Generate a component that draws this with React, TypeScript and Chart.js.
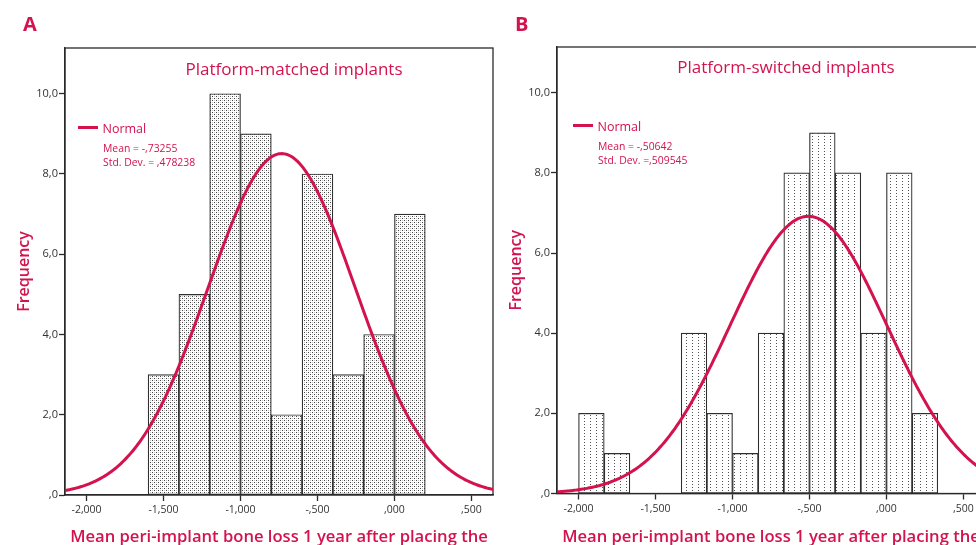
import React, { useEffect, useRef } from "react";
import { Chart, registerables } from "chart.js";

Chart.register(...registerables);

// ---------- data ----------
const X_TICKS = [-2, -1.5, -1, -0.5, 0, 0.5];
const Y_TICKS = [0, 2, 4, 6, 8, 10];
const X_MIN = -2.14;
const X_MAX = 0.64;
const Y_MAX = 11.14;

const X_TITLE = "Mean peri-implant bone loss 1 year after placing the";
const Y_TITLE = "Frequency";

// Panel A: platform-matched implants (bin edges and counts)
const EDGES_A = [-1.6, -1.4, -1.2, -1.0, -0.8, -0.6, -0.4, -0.2, 0.0, 0.2];
const COUNTS_A = [3, 5, 10, 9, 2, 8, 3, 4, 7];
const MEAN_A = -0.73255;
const SD_A = 0.478238;

// Panel B: platform-switched implants (bins of 1/6)
const EDGES_B = [-12, -11, -10, -9, -8, -7, -6, -5, -4, -3, -2, -1, 0, 1, 2].map((k) => k / 6);
const COUNTS_B = [2, 1, 0, 0, 4, 2, 1, 4, 8, 9, 8, 4, 8, 2];
const MEAN_B = -0.50642;
const SD_B = 0.509545;

// ---------- styles ----------
const RED = "#d3124e";
const AXIS = "#2a2a2a";
const FONT = '"Open Sans", sans-serif';
Chart.defaults.font.family = FONT;

function fmtY(v: number) {
  let s = Number(v).toFixed(1).replace(".", ",");
  if (s.startsWith("0,")) s = s.slice(1);
  return s;
}
function fmtX(v: number) {
  let s = Number(v).toFixed(3).replace(".", ",");
  s = s.replace(/^(-?)0,/, "$1,");
  return s;
}

function makePattern(ctx: CanvasRenderingContext2D, kind: string) {
  const c = document.createElement("canvas");
  const p = c.getContext("2d")!;
  if (kind === "dense") {
    c.width = 4;
    c.height = 4;
    p.fillStyle = "#ffffff";
    p.fillRect(0, 0, 4, 4);
    p.fillStyle = "#444444";
    p.fillRect(0, 0, 1, 1);
    p.fillRect(2, 2, 1, 1);
    p.fillStyle = "#c4c4c4";
    p.fillRect(2, 0, 1, 1);
    p.fillRect(0, 2, 1, 1);
  } else {
    c.width = 6;
    c.height = 3;
    p.fillStyle = "#ffffff";
    p.fillRect(0, 0, 6, 3);
    p.fillStyle = "#505050";
    p.fillRect(2, 1, 1, 1);
  }
  return ctx.createPattern(c, "repeat")!;
}

const framePlugin = {
  id: "frame",
  beforeDatasetsDraw(chart: any) {
    const { ctx, chartArea } = chart;
    const { left, top, right, bottom } = chartArea;
    ctx.save();
    ctx.strokeStyle = AXIS;
    ctx.lineWidth = 1.3;
    ctx.strokeRect(left, top, right - left, bottom - top);
    ctx.restore();
  },
};

const textPlugin = {
  id: "panelText",
  afterDraw(chart: any, _args: any, o: any) {
    const ctx = chart.ctx as CanvasRenderingContext2D;
    ctx.save();
    ctx.fillStyle = RED;
    ctx.textBaseline = "alphabetic";
    ctx.textAlign = "left";
    ctx.font = `700 20px ${FONT}`;
    ctx.fillText(o.letter, 23, 31);
    ctx.textAlign = "center";
    ctx.font = `400 17px ${FONT}`;
    ctx.fillText(o.title, 294, 74.5 + o.dy);
    ctx.strokeStyle = RED;
    ctx.lineWidth = 3;
    ctx.beginPath();
    ctx.moveTo(o.lx, 127.5 + o.dy);
    ctx.lineTo(o.lx + 20, 127.5 + o.dy);
    ctx.stroke();
    ctx.textAlign = "left";
    ctx.font = `400 12.5px ${FONT}`;
    ctx.fillText("Normal", o.lx + 24.5, 132.5 + o.dy);
    ctx.font = `400 10.4px ${FONT}`;
    ctx.fillText(o.meanText, o.lx + 25, 152.3 + o.dy);
    ctx.fillText(o.sdText, o.lx + 25, 166 + o.dy);
    ctx.restore();
  },
};

type PanelCfg = {
  letter: string;
  title: string;
  edges: number[];
  counts: number[];
  mean: number;
  sd: number;
  meanText: string;
  sdText: string;
  pattern: string;
  top: number;
  bottom: number;
  lx: number;
  dy: number;
  left: number;
};

const CANVAS_W = 500;
const CANVAS_H = 545;

function Panel({ cfg }: { cfg: PanelCfg }) {
  const ref = useRef<HTMLCanvasElement>(null);
  useEffect(() => {
    const canvas = ref.current!;
    const ctx = canvas.getContext("2d")!;
    const pattern = makePattern(ctx, cfg.pattern);
    const binW = cfg.edges[1] - cfg.edges[0];
    const centers = cfg.counts.map((_, i) => (cfg.edges[i] + cfg.edges[i + 1]) / 2);
    const n = cfg.counts.reduce((a, b) => a + b, 0);
    const curve: { x: number; y: number }[] = [];
    const steps = 300;
    for (let i = 0; i <= steps; i++) {
      const x = X_MIN + ((X_MAX - X_MIN) * i) / steps;
      const z = (x - cfg.mean) / cfg.sd;
      curve.push({ x, y: ((n * binW) / (cfg.sd * Math.sqrt(2 * Math.PI))) * Math.exp(-0.5 * z * z) });
    }
    const chart = new Chart(ctx, {
      type: "bar",
      data: {
        datasets: [
          {
            type: "line",
            label: "Normal",
            data: curve,
            borderColor: RED,
            borderWidth: 3,
            pointRadius: 0,
            tension: 0,
            fill: false,
            order: 0,
          } as any,
          {
            type: "bar",
            label: "Frequency",
            data: centers.map((x, i) => ({ x, y: cfg.counts[i] })),
            backgroundColor: pattern,
            borderColor: "#2e2e2e",
            borderWidth: 1.2,
            borderSkipped: false,
            barPercentage: 1,
            categoryPercentage: 1,
            order: 1,
          } as any,
        ],
      },
      options: {
        responsive: false,
        animation: false,
        devicePixelRatio: 1,
        layout: { padding: { left: 0, right: CANVAS_W - 493, top: cfg.top, bottom: 0 } },
        plugins: {
          legend: { display: false },
          tooltip: { enabled: false },
          title: { display: false },
          panelText: {
            letter: cfg.letter,
            title: cfg.title,
            meanText: cfg.meanText,
            sdText: cfg.sdText,
            lx: cfg.lx,
            dy: cfg.dy,
          },
        } as any,
        scales: {
          x: {
            type: "linear",
            min: X_MIN,
            max: X_MAX,
            offset: false,
            afterBuildTicks: (a: any) => {
              a.ticks = X_TICKS.map((v) => ({ value: v }));
            },
            afterFit: (s: any) => {
              s.height = CANVAS_H - cfg.bottom;
            },
            ticks: {
              callback: (v: any) => fmtX(Number(v)),
              color: "#333",
              font: { size: 10.5 },
              padding: 3,
              maxRotation: 0,
              autoSkip: false,
            },
            grid: {
              drawOnChartArea: false,
              drawTicks: true,
              tickLength: 6,
              tickColor: AXIS,
              tickWidth: 1.3,
              offset: false,
            },
            border: { display: true, color: AXIS, width: 1.3 },
            title: {
              display: true,
              text: X_TITLE,
              color: RED,
              font: { size: 16.6, weight: "600", lineHeight: 1 },
              padding: { top: 0, bottom: -1 },
            },
          } as any,
          y: {
            type: "linear",
            min: 0,
            max: Y_MAX,
            afterBuildTicks: (a: any) => {
              a.ticks = Y_TICKS.map((v) => ({ value: v }));
            },
            afterFit: (s: any) => {
              s.width = 65;
            },
            ticks: {
              callback: (v: any) => fmtY(Number(v)),
              color: "#333",
              font: { size: 11 },
              padding: 1,
            },
            grid: {
              drawOnChartArea: false,
              drawTicks: true,
              tickLength: 6,
              tickColor: AXIS,
              tickWidth: 1.3,
            },
            border: { display: true, color: AXIS, width: 1.3 },
            title: {
              display: true,
              text: Y_TITLE,
              color: RED,
              font: { size: 16, weight: "600", lineHeight: 1.2 },
              padding: { top: 14.5, bottom: 0 },
            },
          } as any,
        },
      },
      plugins: [framePlugin, textPlugin],
    });
    return () => chart.destroy();
  }, [cfg]);
  return (
    <canvas
      ref={ref}
      width={CANVAS_W}
      height={CANVAS_H}
      style={{ position: "absolute", left: cfg.left, top: 0, width: CANVAS_W, height: CANVAS_H }}
    />
  );
}

const PANEL_A: PanelCfg = {
  letter: "A",
  title: "Platform-matched implants",
  edges: EDGES_A,
  counts: COUNTS_A,
  mean: MEAN_A,
  sd: SD_A,
  meanText: "Mean = -,73255",
  sdText: "Std. Dev. = ,478238",
  pattern: "dense",
  top: 48,
  bottom: 495,
  lx: 78,
  dy: 0,
  left: 0,
};

const PANEL_B: PanelCfg = {
  letter: "B",
  title: "Platform-switched implants",
  edges: EDGES_B,
  counts: COUNTS_B,
  mean: MEAN_B,
  sd: SD_B,
  meanText: "Mean = -,50642",
  sdText: "Std. Dev. =,509545",
  pattern: "columns",
  top: 47,
  bottom: 493.5,
  lx: 81,
  dy: -2,
  left: 492,
};

export default function App() {
  return (
    <div
      style={{
        position: "fixed",
        left: 0,
        top: 0,
        width: 976,
        height: 545,
        overflow: "hidden",
        background: "#ffffff",
      }}
    >
      <Panel cfg={PANEL_A} />
      <Panel cfg={PANEL_B} />
    </div>
  );
}
